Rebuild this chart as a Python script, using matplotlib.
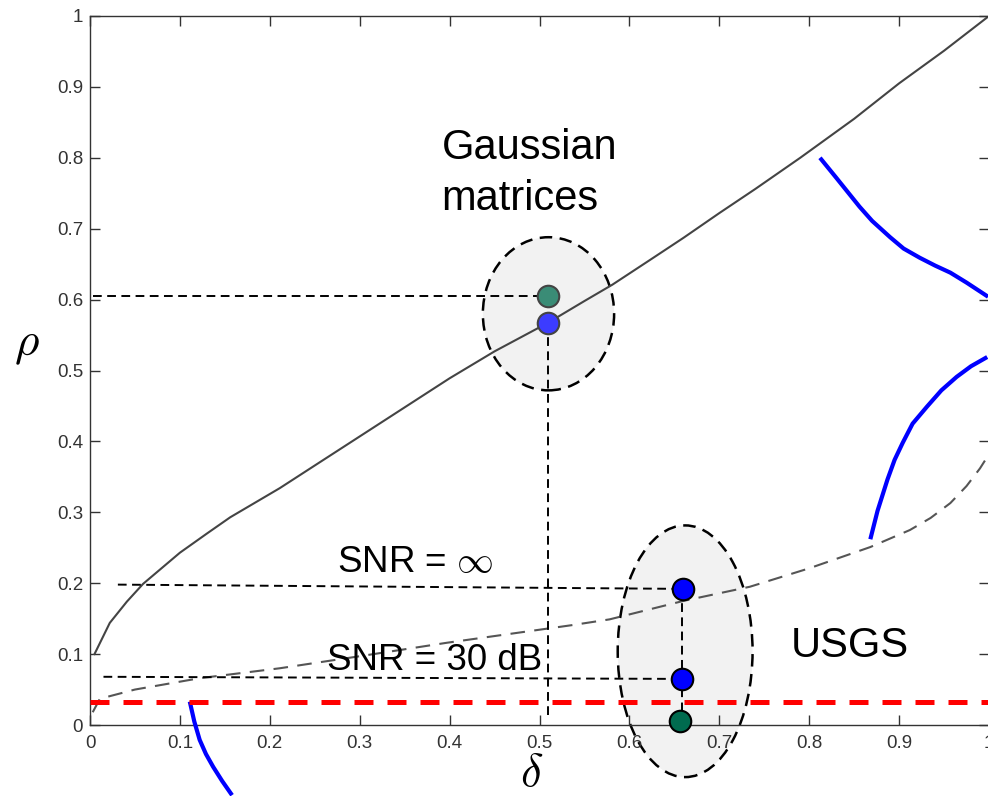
import matplotlib
matplotlib.use("Agg")
import matplotlib.pyplot as plt
from matplotlib.patches import Ellipse

plt.rcParams['font.family'] = ['Liberation Sans', 'DejaVu Sans']
plt.rcParams['mathtext.fontset'] = 'cm'

# --- data ---
solid_delta = [0.005, 0.022, 0.041, 0.059, 0.100, 0.130, 0.156, 0.211, 0.25, 0.30, 0.35, 0.400, 0.45,
               0.509, 0.55, 0.581, 0.623, 0.66, 0.70, 0.74, 0.790, 0.85, 0.90, 0.95, 1.0]
solid_rho = [0.10, 0.144, 0.174, 0.199, 0.243, 0.270, 0.293, 0.334, 0.366, 0.407, 0.448, 0.489, 0.527,
             0.567, 0.598, 0.621, 0.656, 0.687, 0.722, 0.756, 0.800, 0.855, 0.905, 0.951, 1.0]

dashed_delta = [0.003, 0.011, 0.05, 0.122, 0.211, 0.30, 0.397, 0.537, 0.578, 0.66, 0.734, 0.80,
                0.868, 0.912, 0.935, 0.957, 0.975, 0.99, 0.998]
dashed_rho = [0.018, 0.037, 0.050, 0.066, 0.080, 0.097, 0.116, 0.141, 0.149, 0.175, 0.195, 0.221,
              0.251, 0.275, 0.292, 0.313, 0.337, 0.362, 0.378]

blue_a_delta = [0.111, 0.116, 0.122, 0.129, 0.137, 0.147, 0.158]
blue_a_rho = [0.033, 0.005, -0.021, -0.041, -0.059, -0.079, -0.099]

blue_b_delta = [0.812, 0.83, 0.856, 0.87, 0.890, 0.905, 0.923, 0.94, 0.957, 0.975, 0.999]
blue_b_rho = [0.800, 0.772, 0.731, 0.711, 0.688, 0.672, 0.659, 0.648, 0.638, 0.624, 0.604]

blue_c_delta = [0.868, 0.876, 0.887, 0.895, 0.904, 0.915, 0.931, 0.947, 0.964, 0.98, 0.998]
blue_c_rho = [0.262, 0.302, 0.346, 0.374, 0.398, 0.425, 0.449, 0.472, 0.491, 0.506, 0.519]

red_level = 0.033

gauss_delta = 0.509
gauss_rho_green = 0.605
gauss_rho_blue = 0.567

usgs_delta = 0.658
usgs_rho_inf = 0.192
usgs_rho_30 = 0.065
usgs_rho_green = 0.006

xticks = [0, 0.1, 0.2, 0.3, 0.4, 0.5, 0.6, 0.7, 0.8, 0.9, 1.0]
xticklabels = ['0', '0.1', '0.2', '0.3', '0.4', '0.5', '0.6', '0.7', '0.8', '0.9', '1']
yticks = xticks
yticklabels = xticklabels

# --- figure ---
fig = plt.figure(figsize=(9.88, 7.96), dpi=100)
ax = fig.add_axes([90/988, 71/796, 899/988, 709/796])
ax.set_xlim(0, 1)
ax.set_ylim(0, 1)

# ellipses
ax.add_patch(Ellipse((0.510, 0.580), 0.146, 0.216, facecolor='#f2f2f2',
                     edgecolor='black', lw=1.8, linestyle=(0, (5, 3)), zorder=1, clip_on=False))
ax.add_patch(Ellipse((0.662, 0.104), 0.150, 0.355, facecolor='#f2f2f2',
                     edgecolor='black', lw=1.8, linestyle=(0, (5, 3)), zorder=1, clip_on=False))

# curves
ax.plot(solid_delta, solid_rho, color='#444444', lw=1.5, zorder=2)
ax.plot(dashed_delta, dashed_rho, color='#555555', lw=1.5, dashes=(7, 4.5), zorder=2)

for d, r in [(blue_a_delta, blue_a_rho), (blue_b_delta, blue_b_rho), (blue_c_delta, blue_c_rho)]:
    ax.plot(d, r, color='#0000ff', lw=3.0, zorder=3, clip_on=False, solid_capstyle='butt',
            solid_joinstyle='round')

ax.axhline(red_level, color='#ff0000', lw=3.6, dashes=(3.8, 2.8), zorder=3)

# guide lines
gd = dict(color='black', lw=1.4, dashes=(4.5, 2.8), zorder=4)
ax.plot([0.003, gauss_delta], [gauss_rho_green, gauss_rho_green], **gd)
ax.plot([gauss_delta, gauss_delta], [gauss_rho_blue, 0.012], clip_on=False, **gd)
ax.plot([0.031, usgs_delta], [0.198, usgs_rho_inf], **gd)
ax.plot([0.015, usgs_delta], [0.068, usgs_rho_30], **gd)
ax.plot([usgs_delta, usgs_delta], [usgs_rho_inf, usgs_rho_green], **gd)

# points
ms = 15.5
ax.plot([gauss_delta], [gauss_rho_green], 'o', ms=ms, mfc='#3a8c76', mec='#444444', mew=1.5, zorder=6)
ax.plot([gauss_delta], [gauss_rho_blue], 'o', ms=ms, mfc='#3c3cff', mec='#444444', mew=1.5, zorder=6)
ax.plot([usgs_delta + 0.002], [usgs_rho_inf], 'o', ms=ms, mfc='#0000ff', mec='black', mew=1.5, zorder=6)
ax.plot([usgs_delta], [usgs_rho_30], 'o', ms=ms, mfc='#0000ff', mec='black', mew=1.5, zorder=6)
ax.plot([usgs_delta - 0.002], [usgs_rho_green], 'o', ms=ms, mfc='#006b4f', mec='black', mew=1.5, zorder=6, clip_on=False)

# texts
ax.text(0.391, 0.798, 'Gaussian', fontsize=30, ha='left', va='baseline', zorder=7)
ax.text(0.391, 0.726, 'matrices', fontsize=30, ha='left', va='baseline', zorder=7)
ax.text(0.275, 0.216, r'SNR = $\infty$', fontsize=26.5, ha='left', va='baseline', zorder=7)
ax.text(0.264, 0.078, 'SNR = 30 dB', fontsize=26.5, ha='left', va='baseline', zorder=7)
ax.text(0.779, 0.096, 'USGS', fontsize=30, ha='left', va='baseline', zorder=7)

# axis labels
fig.text(27/988, 1 - 345/796, r'$\rho$', fontsize=34, ha='center', va='center')
fig.text(532/988, 1 - 774/796, r'$\delta$', fontsize=34, ha='center', va='center')

# axes styling
ax.set_xticks(xticks)
ax.set_xticklabels(xticklabels)
ax.set_yticks(yticks)
ax.set_yticklabels(yticklabels)
ax.tick_params(direction='in', length=7, width=1.0, color='#333333', labelcolor='#333333',
               labelsize=13.5, top=True, right=True)
ax.tick_params(axis='x', pad=7)
ax.tick_params(axis='y', pad=5)
for s in ax.spines.values():
    s.set_color('#333333')
    s.set_linewidth(1.0)

fig.savefig('out.png', dpi=100)
